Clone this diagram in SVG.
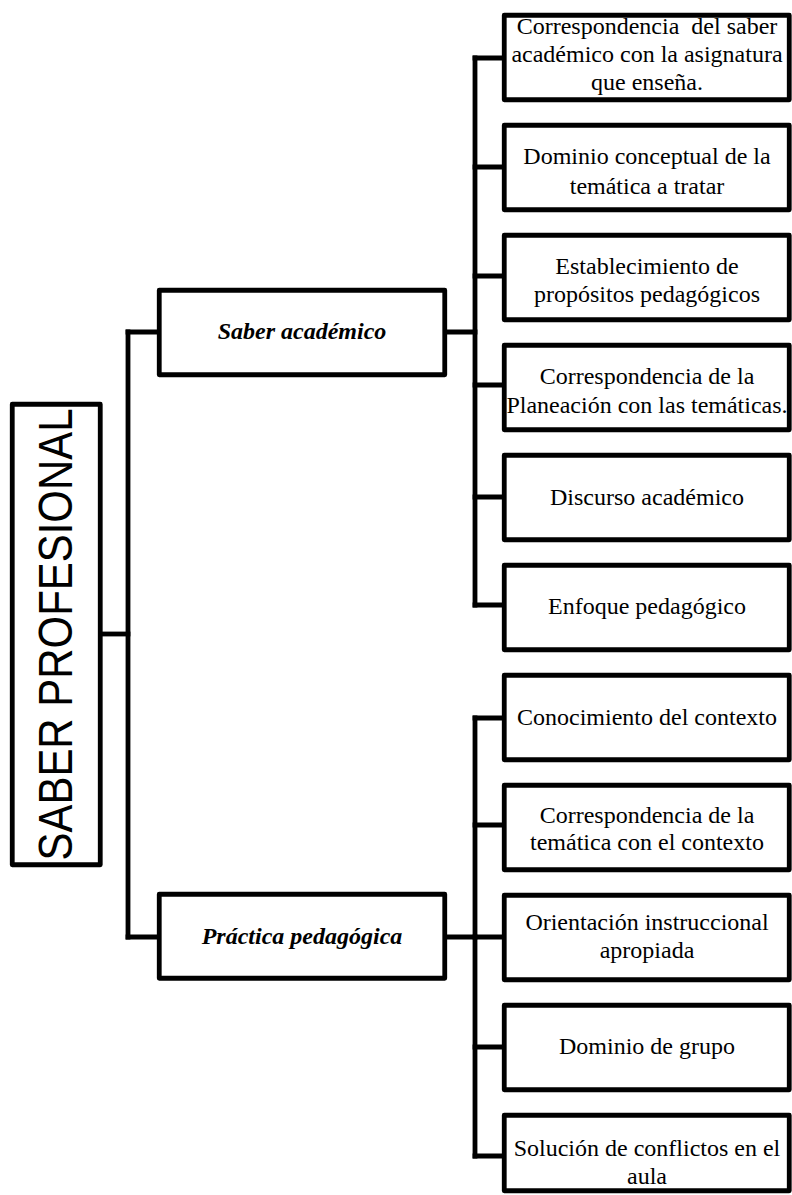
<svg xmlns="http://www.w3.org/2000/svg" width="792" height="1195" viewBox="0 0 792 1195">
<style>
.box{fill:#fff;stroke:#000;stroke-width:4.8;stroke-linejoin:round}
.conn line{stroke:#000;stroke-width:4.8;stroke-linecap:square}
.t{font-family:"Liberation Serif","Times New Roman",serif;font-size:24px;fill:#000;text-anchor:middle}
.bi{font-weight:bold;font-style:italic}
.big{font-family:"Liberation Sans",Arial,sans-serif;font-size:48px;fill:#000;text-anchor:middle}
</style>
<rect width="792" height="1195" fill="#fff"/>
<g id="connectors" class="conn">
<line x1="102" y1="634" x2="128" y2="634"/>
<line x1="128" y1="332" x2="128" y2="937"/>
<line x1="128" y1="332" x2="157" y2="332"/>
<line x1="128" y1="937" x2="157" y2="937"/>
<line x1="447" y1="332" x2="475" y2="332"/>
<line x1="475" y1="58" x2="475" y2="605"/>
<line x1="475" y1="58" x2="502" y2="58"/>
<line x1="475" y1="167" x2="502" y2="167"/>
<line x1="475" y1="276" x2="502" y2="276"/>
<line x1="475" y1="385" x2="502" y2="385"/>
<line x1="475" y1="497" x2="502" y2="497"/>
<line x1="475" y1="605" x2="502" y2="605"/>
<line x1="447" y1="937" x2="475" y2="937"/>
<line x1="475" y1="718" x2="475" y2="1156"/>
<line x1="475" y1="718" x2="502" y2="718"/>
<line x1="475" y1="825" x2="502" y2="825"/>
<line x1="475" y1="937" x2="502" y2="937"/>
<line x1="475" y1="1047" x2="502" y2="1047"/>
<line x1="475" y1="1156" x2="502" y2="1156"/>
</g>
<g id="saber-profesional">
<rect class="box" x="12.25" y="404.25" width="88" height="460.5"/>
<text class="big" transform="translate(72,634.5) rotate(-90)" x="0" y="0" textLength="452" lengthAdjust="spacingAndGlyphs">SABER PROFESIONAL</text>
</g>
<g id="saber-academico">
<rect class="box" x="159.25" y="290.25" width="285.5" height="84.5"/>
<text class="t bi" x="302" y="339">Saber académico</text>
</g>
<g id="practica-pedagogica">
<rect class="box" x="159.25" y="894.25" width="285.5" height="84"/>
<text class="t bi" x="302" y="944">Práctica pedagógica</text>
</g>
<g id="n1">
<rect class="box" x="504.25" y="15.25" width="285" height="84.5"/>
<text class="t" x="647" y="34" xml:space="preserve">Correspondencia  del saber</text>
<text class="t" x="647" y="62">académico con la asignatura</text>
<text class="t" x="647" y="90">que enseña.</text>
</g>
<g id="n2">
<rect class="box" x="504.25" y="125.25" width="285" height="84.5"/>
<text class="t" x="647" y="164">Dominio conceptual de la</text>
<text class="t" x="647" y="194">temática a tratar</text>
</g>
<g id="n3">
<rect class="box" x="504.25" y="235.25" width="285" height="84.5"/>
<text class="t" x="647" y="274">Establecimiento de</text>
<text class="t" x="647" y="302">propósitos pedagógicos</text>
</g>
<g id="n4">
<rect class="box" x="504.25" y="345.25" width="285" height="84.5"/>
<text class="t" x="647" y="384">Correspondencia de la</text>
<text class="t" x="647" y="413">Planeación con las temáticas.</text>
</g>
<g id="n5">
<rect class="box" x="504.25" y="455.25" width="285" height="84.5"/>
<text class="t" x="647" y="505">Discurso académico</text>
</g>
<g id="n6">
<rect class="box" x="504.25" y="565.25" width="285" height="84.5"/>
<text class="t" x="647" y="614">Enfoque pedagógico</text>
</g>
<g id="n7">
<rect class="box" x="504.25" y="675.25" width="285" height="84.5"/>
<text class="t" x="647" y="725">Conocimiento del contexto</text>
</g>
<g id="n8">
<rect class="box" x="504.25" y="785.25" width="285" height="84.5"/>
<text class="t" x="647" y="823">Correspondencia de la</text>
<text class="t" x="647" y="850">temática con el contexto</text>
</g>
<g id="n9">
<rect class="box" x="504.25" y="895.25" width="285" height="84.5"/>
<text class="t" x="647" y="930">Orientación instruccional</text>
<text class="t" x="647" y="958">apropiada</text>
</g>
<g id="n10">
<rect class="box" x="504.25" y="1005.25" width="285" height="84.5"/>
<text class="t" x="647" y="1054">Dominio de grupo</text>
</g>
<g id="n11">
<rect class="box" x="504.25" y="1115.25" width="285" height="75.5"/>
<text class="t" x="647" y="1156">Solución de conflictos en el</text>
<text class="t" x="647" y="1184">aula</text>
</g>
</svg>
